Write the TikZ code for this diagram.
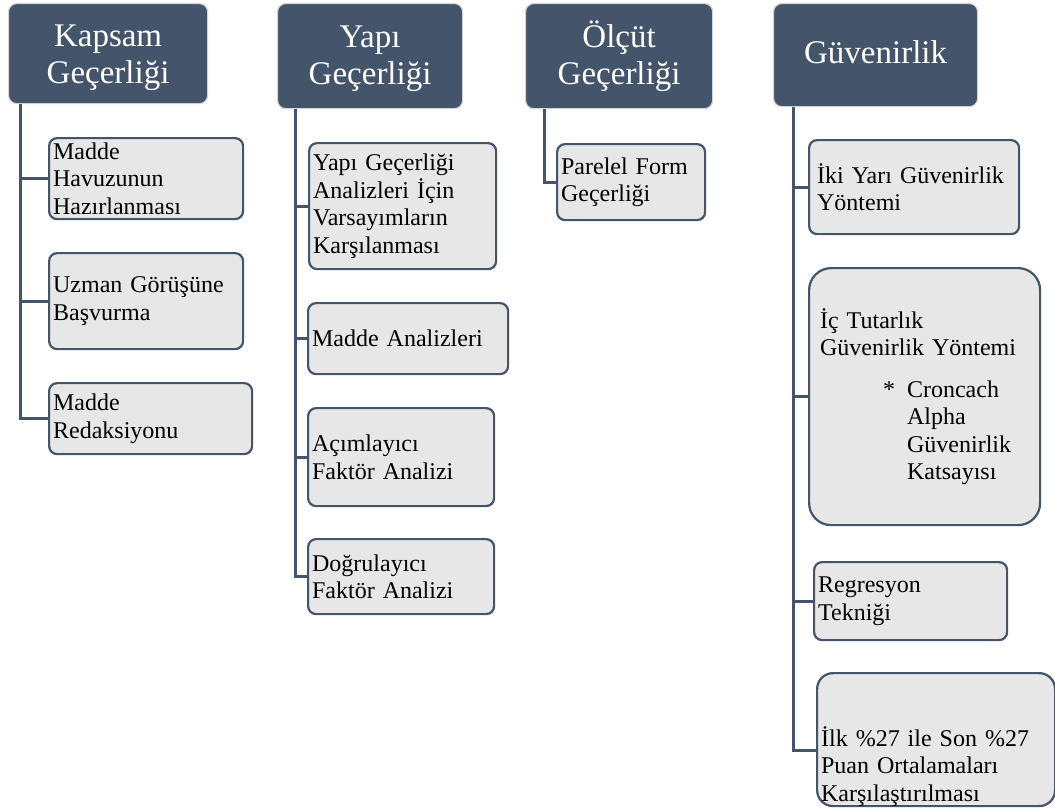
\documentclass[tikz,border=0pt]{standalone}
\usepackage{fontspec}
\setmainfont{Liberation Serif}
\usetikzlibrary{calc}
\definecolor{headblue}{HTML}{44546A}
\definecolor{headedge}{HTML}{D4D4D4}
\definecolor{subgray}{HTML}{E7E7E7}
\tikzset{
    head/.style={draw=headedge,fill=headblue,text=white,rounded corners=8pt,line width=1.2pt,
        font=\fontsize{33}{37}\selectfont,align=center,anchor=north west,inner sep=0pt},
    sub/.style={draw=headblue,fill=subgray,rounded corners=8pt,line width=2.2pt,
        font=\fontsize{24}{27.5}\selectfont,align=left,anchor=north west,inner xsep=4pt,inner ysep=0pt},
    conn/.style={draw=headblue,line width=3pt}
}
\begin{document}
\begin{tikzpicture}[x=1pt,y=-1pt]
                        \useasboundingbox (0,0) rectangle (1055,807);
                        \node[head,text width=199pt,text height=43pt,text depth=57pt] (kap) at (8,3) {Kapsam\\Geçerliği};
                        \node[head,text width=185pt,text height=44pt,text depth=61pt] (yap) at (277,3) {Yapı\\Geçerliği};
                        \node[head,text width=187pt,text height=44pt,text depth=61pt] (olc) at (525,3) {Ölçüt\\Geçerliği};
                        \node[head,text width=204pt,text height=60pt,text depth=43pt] (guv) at (773,3) {Güvenirlik};
                        \node[sub,text width=186pt,minimum height=81pt] (k1) at (48,137) {Madde\\Havuzunun\\Hazırlanması};
                        \node[sub,text width=186pt,minimum height=96pt] (k2) at (48,252) {Uzman Görüşüne\\Başvurma};
                        \node[sub,text width=195pt,minimum height=71pt] (k3) at (48,382) {Madde\\Redaksiyonu};
                        \node[sub,text width=179pt,minimum height=126pt] (y1) at (308,142) {Yapı Geçerliği\\Analizleri İçin\\Varsayımların\\Karşılanması};
                        \node[sub,text width=192pt,minimum height=71pt] (y2) at (307,302) {Madde Analizleri};
                        \node[sub,text width=178pt,minimum height=98pt] (y3) at (307,407) {Açımlayıcı\\Faktör Analizi};
                        \node[sub,text width=178pt,minimum height=75pt] (y4) at (307,538) {Doğrulayıcı\\Faktör Analizi};
                        \node[sub,text width=140pt,minimum height=76pt] (o1) at (556,143) {Parelel Form\\Geçerliği};
                        \node[sub,inner xsep=8pt,text width=194pt,minimum height=94pt] (g1) at (808,139) {İki Yarı Güvenirlik\\Yöntemi};
                        \node[sub,inner xsep=11pt,rounded corners=22pt,text width=209pt,minimum height=257pt] (g2) at (808,267)
                            {İç Tutarlık\\Güvenirlik Yöntemi\\[14pt]\makebox[87pt][r]{*\hspace{12pt}}Croncach\\\hspace*{87pt}Alpha\\\hspace*{87pt}Güvenirlik\\\hspace*{87pt}Katsayısı};
                        \node[sub,text width=185pt,minimum height=78pt] (g3) at (813,561) {Regresyon\\Tekniği};
                        \node[sub,rounded corners=16pt,text width=230pt,text height=73pt,text depth=60pt] (g4) at (816,672)
                            {İlk \%27 ile Son \%27\\Puan Ortalamaları\\Karşılaştırılması};
                        \foreach \c in {k1,k2,k3} \draw[conn] ([xshift=12pt]kap.south west) |- (\c.west);
                        \foreach \c in {y1,y2,y3,y4} \draw[conn] ([xshift=18pt]yap.south west) |- (\c.west);
                        \draw[conn] ([xshift=19pt]olc.south west) |- (o1.west);
                        \foreach \c in {g1,g2,g3} \draw[conn] ([xshift=20pt]guv.south west) |- (\c.west);
                        \draw[conn] ([xshift=20pt]guv.south west) |- ([yshift=-11pt]g4.west);
                    \end{tikzpicture}
\end{document}
